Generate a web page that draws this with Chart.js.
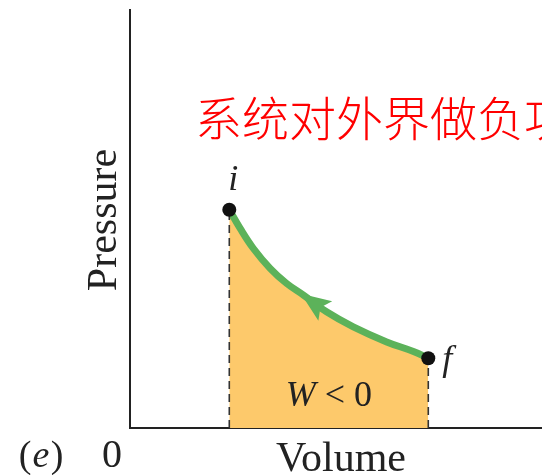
<!DOCTYPE html>
<html>
<head>
<meta charset="utf-8">
<script src="https://cdn.jsdelivr.net/npm/chart.js@4.4.0/dist/chart.umd.min.js"></script>
<style>
  html, body { margin: 0; padding: 0; background: #fff; }
  #wrap { width: 542px; height: 475px; }
</style>
</head>
<body>
<div id="wrap"><canvas id="pv"></canvas></div>
<script>
// curve (volume, pressure), from i to f
const curveVolume = [2.41, 2.67, 2.99, 3.40, 3.80, 4.21, 4.77, 5.42, 6.23, 6.88, 7.24];
const curvePressure = [5.22, 4.78, 4.30, 3.82, 3.46, 3.18, 2.78, 2.42, 2.06, 1.83, 1.67];

// end states
const stateNames = ["i", "f"];
const stateVolume = [2.41, 7.24];
const statePressure = [5.22, 1.67];

// arrow on the path (tip, tail) pointing from f back to i
const arrowTip = [4.15, 3.21];
const arrowTail = [4.74, 2.80];

const xLabel = "Volume";
const yLabel = "Pressure";
const workLabel = "W < 0";
const note = "系统对外界做负功";

const green = "#5cb25a";
const orange = "#fdc96b";

const curveData = curveVolume.map((v, i) => ({ x: v, y: curvePressure[i] }));
const stateData = stateVolume.map((v, i) => ({ x: v, y: statePressure[i] }));

//dashed drop lines from each state down to the volume axis
const dropLines = stateVolume.map((v, i) => ({
  type: "line",
  data: [{ x: v, y: 0 }, { x: v, y: statePressure[i] }],
  borderColor: "#333",
  borderWidth: 1.6,
  borderDash: [8, 5],
  pointRadius: 0,
  fill: false,
  order: 2,
}));

const labelPlugin = {
  id: "labels",
  afterDatasetsDraw(chart) {
    const ctx = chart.ctx;
    const xs = chart.scales.x;
    const ys = chart.scales.y;
    const area = chart.chartArea;

    // arrow head
    const tx = xs.getPixelForValue(arrowTip[0]), ty = ys.getPixelForValue(arrowTip[1]);
    const bx = xs.getPixelForValue(arrowTail[0]), by = ys.getPixelForValue(arrowTail[1]);
    const ang = Math.atan2(ty - by, tx - bx);
    const half = 12;
    ctx.save();
    ctx.fillStyle = green;
    ctx.beginPath();
    ctx.moveTo(tx, ty);
    ctx.lineTo(bx + half * Math.cos(ang + Math.PI / 2), by + half * Math.sin(ang + Math.PI / 2));
    ctx.lineTo(bx + 0.2 * (tx - bx), by + 0.2 * (ty - by));
    ctx.lineTo(bx + half * Math.cos(ang - Math.PI / 2), by + half * Math.sin(ang - Math.PI / 2));
    ctx.closePath();
    ctx.fill();

    ctx.fillStyle = "#222";
    ctx.textAlign = "center";
    ctx.textBaseline = "alphabetic";

    // state names
    ctx.font = "italic 36px 'Liberation Serif'";
    ctx.fillText(stateNames[0], xs.getPixelForValue(stateVolume[0]) + 4, ys.getPixelForValue(statePressure[0]) - 20);
    ctx.textAlign = "left";
    ctx.fillText(stateNames[1], xs.getPixelForValue(stateVolume[1]) + 14, ys.getPixelForValue(statePressure[1]) + 12);

    // work label inside the area
    const midX = (xs.getPixelForValue(stateVolume[0]) + xs.getPixelForValue(stateVolume[1])) / 2;
    ctx.font = "italic 36px 'Liberation Serif'";
    const wW = ctx.measureText("W").width;
    ctx.font = "36px 'Liberation Serif'";
    const restW = ctx.measureText(workLabel.slice(1)).width;
    const startX = midX - (wW + restW) / 2;
    ctx.font = "italic 36px 'Liberation Serif'";
    ctx.fillText("W", startX, area.bottom - 22);
    ctx.font = "36px 'Liberation Serif'";
    ctx.fillText(workLabel.slice(1), startX + wW, area.bottom - 22);

    // axis names
    ctx.textAlign = "center";
    ctx.font = "42px 'Liberation Serif'";
    ctx.fillText(xLabel, 341, 471);
    ctx.font = "40px 'Liberation Serif'";
    ctx.fillText("0", 112, 467);
    ctx.font = "italic 38px 'Liberation Serif'";
    ctx.fillText("e", 41, 467);
    ctx.font = "38px 'Liberation Serif'";
    ctx.fillText("(", 25, 467);
    ctx.fillText(")", 57, 467);

    ctx.save();
    ctx.translate(116, 220);
    ctx.rotate(-Math.PI / 2);
    ctx.font = "42px 'Liberation Serif'";
    ctx.fillText(yLabel, 0, 0);
    ctx.restore();

    // red note
    ctx.fillStyle = "#ff0000";
    ctx.textAlign = "left";
    ctx.textBaseline = "middle";
    ctx.font = "300 47px 'Noto Sans CJK SC'";
    ctx.fillText(note, 195, 118);
    ctx.restore();
  },
};

new Chart(document.getElementById("pv"), {
  type: "scatter",
  data: {
    datasets: [
      {
        type: "line",
        data: curveData,
        borderColor: green,
        borderWidth: 7,
        backgroundColor: orange,
        fill: "origin",
        tension: 0.4,
        pointRadius: 0,
        order: 3,
      },
      ...dropLines,
      {
        data: stateData,
        pointRadius: 7,
        pointBackgroundColor: "#111",
        pointBorderWidth: 0,
        order: 1,
      },
    ],
  },
  options: {
    responsive: true,
    maintainAspectRatio: false,
    animation: false,
    layout: { autoPadding: false, padding: { left: 130, top: 10, right: 0, bottom: 47 } },
    plugins: { legend: { display: false }, tooltip: { enabled: false } },
    scales: {
      x: {
        min: 0,
        max: 10,
        ticks: { display: false },
        grid: { display: false, drawTicks: false },
        border: { display: true, color: "#222", width: 2 },
      },
      y: {
        min: 0,
        max: 10,
        ticks: { display: false },
        grid: { display: false, drawTicks: false },
        border: { display: true, color: "#222", width: 2 },
      },
    },
  },
  plugins: [labelPlugin],
});
</script>
</body>
</html>
